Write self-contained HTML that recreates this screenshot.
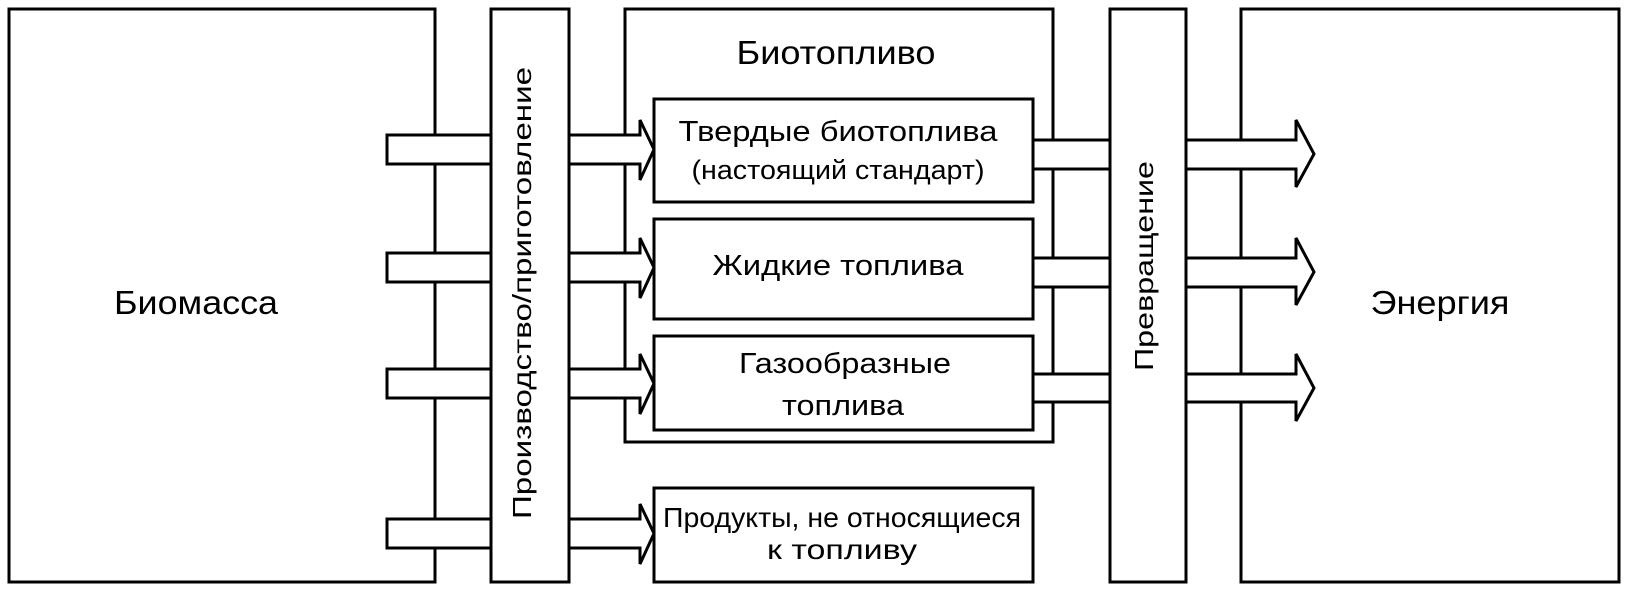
<!DOCTYPE html>
<html><head><meta charset="utf-8"><style>
html,body{margin:0;padding:0;background:#fff;}
svg{display:block;}
text{font-family:"Liberation Sans",sans-serif;fill:#000;}
</style></head><body>
<svg width="1630" height="590" viewBox="0 0 1630 590" xmlns="http://www.w3.org/2000/svg">
<g fill="#fff" stroke="#000" stroke-width="3">
<rect x="9" y="9" width="426" height="573"/>
<rect x="625" y="9" width="428" height="433"/>
<rect x="1241" y="9" width="378" height="573"/>
<rect x="387" y="135" width="104" height="29"/>
<rect x="387" y="253" width="104" height="29"/>
<rect x="387" y="369" width="104" height="29"/>
<rect x="387" y="519" width="104" height="29"/>
<rect x="491" y="9" width="78" height="573"/>
<path d="M569 135 H640 V120 L654 149.5 L640 180 V164 H569 Z"/>
<path d="M569 253 H640 V238 L654 267.5 L640 298 V282 H569 Z"/>
<path d="M569 369 H640 V354 L654 383.5 L640 414 V398 H569 Z"/>
<path d="M569 519 H640 V504 L654 533.5 L640 564 V548 H569 Z"/>
<rect x="1033" y="140" width="77" height="29"/>
<rect x="1033" y="258" width="77" height="29"/>
<rect x="1033" y="374" width="77" height="28"/>
<rect x="654" y="99" width="379" height="103"/>
<rect x="654" y="219" width="379" height="100"/>
<rect x="654" y="336" width="379" height="94"/>
<rect x="654" y="488" width="379" height="94"/>
<path d="M1186 140 H1296 V120 L1314 154 L1296 187 V169 H1186 Z"/>
<path d="M1186 258 H1296 V238 L1314 272 L1296 305 V287 H1186 Z"/>
<path d="M1186 374 H1296 V354 L1314 388 L1296 421 V402 H1186 Z"/>
<rect x="1110" y="9" width="76" height="573"/>
</g>
<g font-size="33" text-anchor="middle">
<text x="196" y="314" textLength="164" lengthAdjust="spacingAndGlyphs">Биомасса</text>
<text x="1440" y="314" textLength="139" lengthAdjust="spacingAndGlyphs">Энергия</text>
<text x="836" y="64" textLength="199" lengthAdjust="spacingAndGlyphs">Биотопливо</text>
</g>
<g font-size="29" text-anchor="middle">
<text x="838" y="141" textLength="319" lengthAdjust="spacingAndGlyphs">Твердые биотоплива</text>
<text x="838" y="179" font-size="27" textLength="293" lengthAdjust="spacingAndGlyphs">(настоящий стандарт)</text>
<text x="838" y="275" textLength="251" lengthAdjust="spacingAndGlyphs">Жидкие топлива</text>
<text x="845" y="373" textLength="212" lengthAdjust="spacingAndGlyphs">Газообразные</text>
<text x="843" y="415" textLength="122" lengthAdjust="spacingAndGlyphs">топлива</text>
<text x="842" y="527" font-size="28" textLength="358" lengthAdjust="spacingAndGlyphs">Продукты, не относящиеся</text>
<text x="842" y="559" font-size="28" textLength="150" lengthAdjust="spacingAndGlyphs">к топливу</text>
<text transform="translate(531,293) rotate(-90)" font-size="26" textLength="452" lengthAdjust="spacingAndGlyphs">Производство/приготовление</text>
<text transform="translate(1153,266) rotate(-90)" font-size="26" textLength="210" lengthAdjust="spacingAndGlyphs">Превращение</text>
</g>
</svg>
</body></html>
